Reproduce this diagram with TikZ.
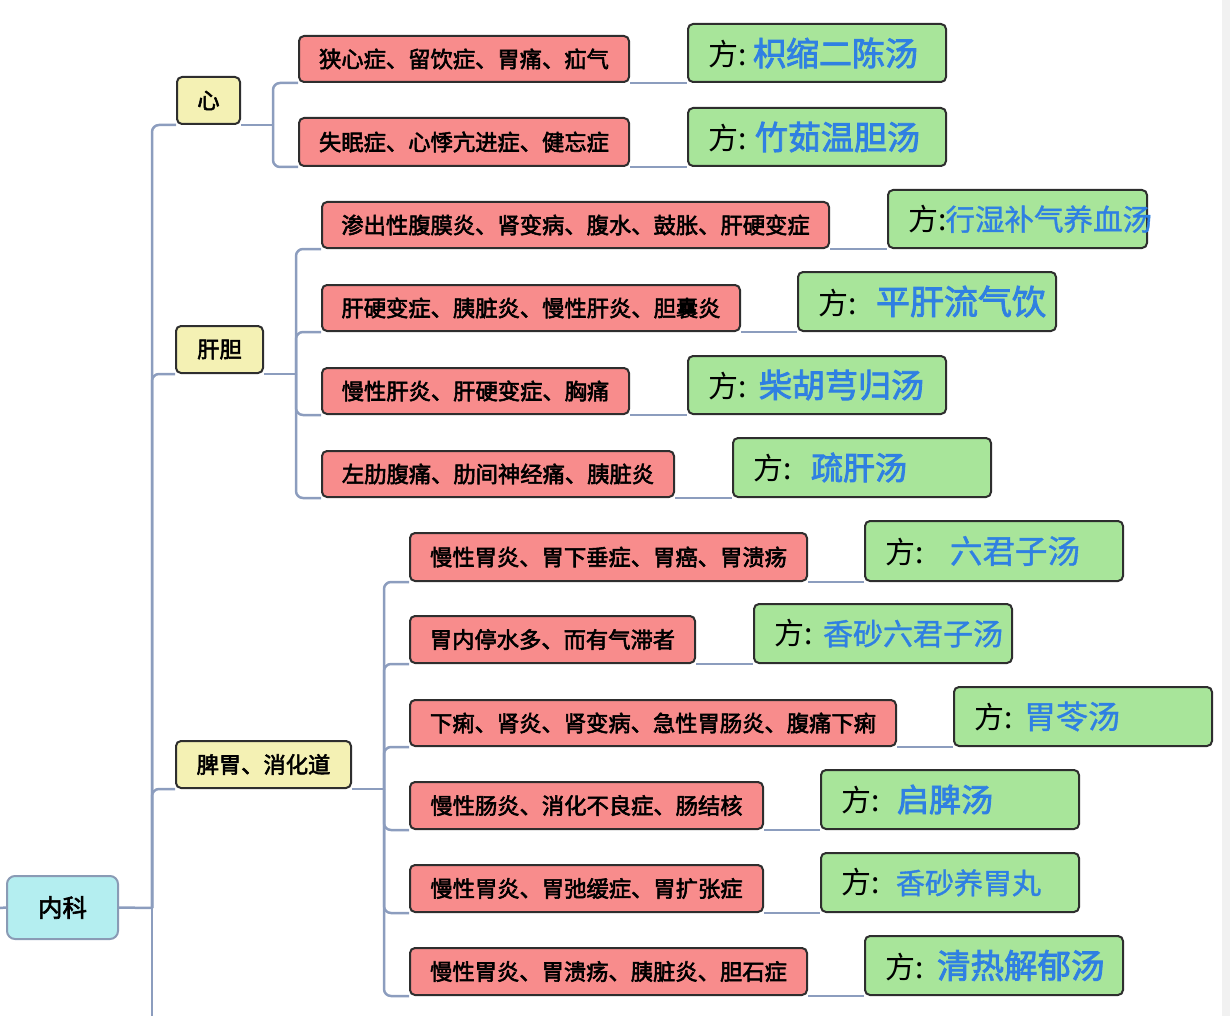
\documentclass[tikz,border=0pt]{standalone}
\usepackage{fontspec}
\newfontfamily\cjk{Noto Sans CJK SC}[AutoFakeBold=2.5]
\newfontfamily\cjkm{Noto Sans CJK SC}[FakeBold=1.2]
\usetikzlibrary{positioning}
\definecolor{redf}{HTML}{F88C8C}
\definecolor{greenf}{HTML}{A8E59A}
\definecolor{yellowf}{HTML}{F4F1B4}
\definecolor{cyanf}{HTML}{B4EEF0}
\definecolor{boxb}{HTML}{2E2E2E}
\definecolor{rootb}{HTML}{8A9BB5}
\definecolor{linec}{HTML}{8C9DBE}
\definecolor{fblue}{HTML}{2F80E2}
\definecolor{stripc}{HTML}{F1F1F1}
\newcommand\fsz[1]{\fontsize{#1}{#1}\selectfont}
\newcommand\fang[4][\cjkm]{\makebox[218pt][l]{\makebox[#2][l]{\cjk\fsz{30}方:}{\color{fblue}\cjk#1\fsz{#3}#4}}}
\pgfdeclarelayer{bg}
\pgfsetlayers{bg,main}
\tikzset{
  conn/.style={draw=linec, line width=2.5pt, rounded corners=7pt},
  basebox/.style={rounded corners=5pt, line width=2pt, draw=boxb, inner sep=0pt, anchor=south west},
  redbox/.style={basebox, fill=redf, minimum height=46pt, font=\cjk\bfseries\fsz{22.3}},
  greenbox/.style={basebox, fill=greenf, inner xsep=20pt, minimum width=258pt, minimum height=58pt},
  yellowbox/.style={basebox, fill=yellowf, minimum height=47pt, font=\cjk\bfseries\fsz{22.3}},
  rootbox/.style={basebox, fill=cyanf, draw=rootb, rounded corners=8pt, minimum width=111pt, minimum height=63pt, font=\cjk\bfseries\fsz{24.5}}
}
\begin{document}
\begin{tikzpicture}[x=1pt,y=-1pt]
\useasboundingbox (0,0) rectangle (1230,1016);
\fill[stripc] (1222,0) rectangle (1230,1016);

% root
\node[rootbox] (root) at (6,940) {内科};
\coordinate (lstub) at (0,908);
\coordinate (v0) at (152,908);
\coordinate (bot) at (152,1016);

% level 1
\node[yellowbox, minimum width=63pt] (xin) at (176,125) {心};
\node[yellowbox, minimum width=87pt] (gd) at (175,374) {肝胆};
\node[yellowbox, minimum width=175pt] (pw) at (175,789) {脾胃、消化道};

% 心
\node[redbox, minimum width=330pt] (r1) at (298,83) {狭心症、留饮症、胃痛、疝气};
\node[greenbox] (g1) at (687,83) {\fang[\bfseries]{45pt}{33}{枳缩二陈汤}};
\node[redbox, minimum width=330pt, minimum height=48pt] (r2) at (298,167) {失眠症、心悸亢进症、健忘症};
\node[greenbox] (g2) at (687,167) {\fang[\bfseries]{47pt}{33}{竹茹温胆汤}};

% 肝胆
\node[redbox, minimum width=507pt] (r3) at (321,249) {渗出性腹膜炎、肾变病、腹水、鼓胀、肝硬变症};
\node[greenbox, minimum width=259pt] (g3) at (887,249) {\fang{37pt}{29.5}{行湿补气养血汤}};
\node[redbox, minimum width=418pt] (r4) at (321,332) {肝硬变症、胰脏炎、慢性肝炎、胆囊炎};
\node[greenbox, minimum height=59pt] (g4) at (797,332) {\fang[\bfseries]{58pt}{34}{平肝流气饮}};
\node[redbox, minimum width=307pt] (r5) at (321,415) {慢性肝炎、肝硬变症、胸痛};
\node[greenbox] (g5) at (687,415) {\fang[\bfseries]{51pt}{33}{柴胡芎归汤}};
\node[redbox, minimum width=352pt] (r6) at (321,498) {左肋腹痛、肋间神经痛、胰脏炎};
\node[greenbox, minimum height=59pt] (g6) at (732,498) {\fang[\bfseries]{58pt}{32}{疏肝汤}};

% 脾胃
\node[redbox, minimum width=397pt, minimum height=48pt] (r7) at (409,582) {慢性胃炎、胃下垂症、胃癌、胃溃疡};
\node[greenbox, minimum height=60pt] (g7) at (864,582) {\fang{65pt}{32.5}{六君子汤}};
\node[redbox, minimum width=285pt, minimum height=47pt] (r8) at (409,664) {胃内停水多、而有气滞者};
\node[greenbox, minimum height=59pt] (g8) at (753,664) {\fang{49pt}{30}{香砂六君子汤}};
\node[redbox, minimum width=486pt] (r9) at (409,747) {下痢、肾炎、肾变病、急性胃肠炎、腹痛下痢};
\node[greenbox, minimum height=59pt] (g9) at (953,747) {\fang{50pt}{32}{胃苓汤}};
\node[redbox, minimum width=353pt, minimum height=47pt] (r10) at (409,830) {慢性肠炎、消化不良症、肠结核};
\node[greenbox, minimum height=59pt] (g10) at (820,830) {\fang[\bfseries]{56pt}{32}{启脾汤}};
\node[redbox, minimum width=353pt, minimum height=47pt] (r11) at (409,913) {慢性胃炎、胃弛缓症、胃扩张症};
\node[greenbox, minimum height=59pt] (g11) at (820,913) {\fang{55pt}{29}{香砂养胃丸}};
\node[redbox, minimum width=397pt, minimum height=47pt] (r12) at (409,996) {慢性胃炎、胃溃疡、胰脏炎、胆石症};
\node[greenbox, minimum height=59pt] (g12) at (864,996) {\fang[\bfseries]{52pt}{33.5}{清热解郁汤}};

\coordinate (jx) at (273,125);
\coordinate (jg) at (296,374);
\coordinate (jp) at (384,789);

\begin{pgfonlayer}{bg}
\draw[conn] (lstub) -- (root.west);
\draw[conn] (root.east) -- (v0);
\draw[conn] (v0) |- (xin.south west);
\draw[conn] (v0) |- (gd.south west);
\draw[conn] (v0) |- (pw.south west);
\draw[conn] (v0) -- (bot);

\draw[conn] (xin.south east) -- (jx);
\draw[conn] (jx) |- (r1.south west);
\draw[conn] (jx) |- (r2.south west);
\draw[conn] (gd.south east) -- (jg);
\foreach \r in {r3,r4,r5,r6}
  \draw[conn] (jg) |- (\r.south west);
\draw[conn] (pw.south east) -- (jp);
\foreach \r in {r7,r8,r9,r10,r11,r12}
  \draw[conn] (jp) |- (\r.south west);

\foreach \i in {1,...,12}
  \draw[conn] (r\i.south east) -- (g\i.south west);
\end{pgfonlayer}
\end{tikzpicture}
\end{document}
